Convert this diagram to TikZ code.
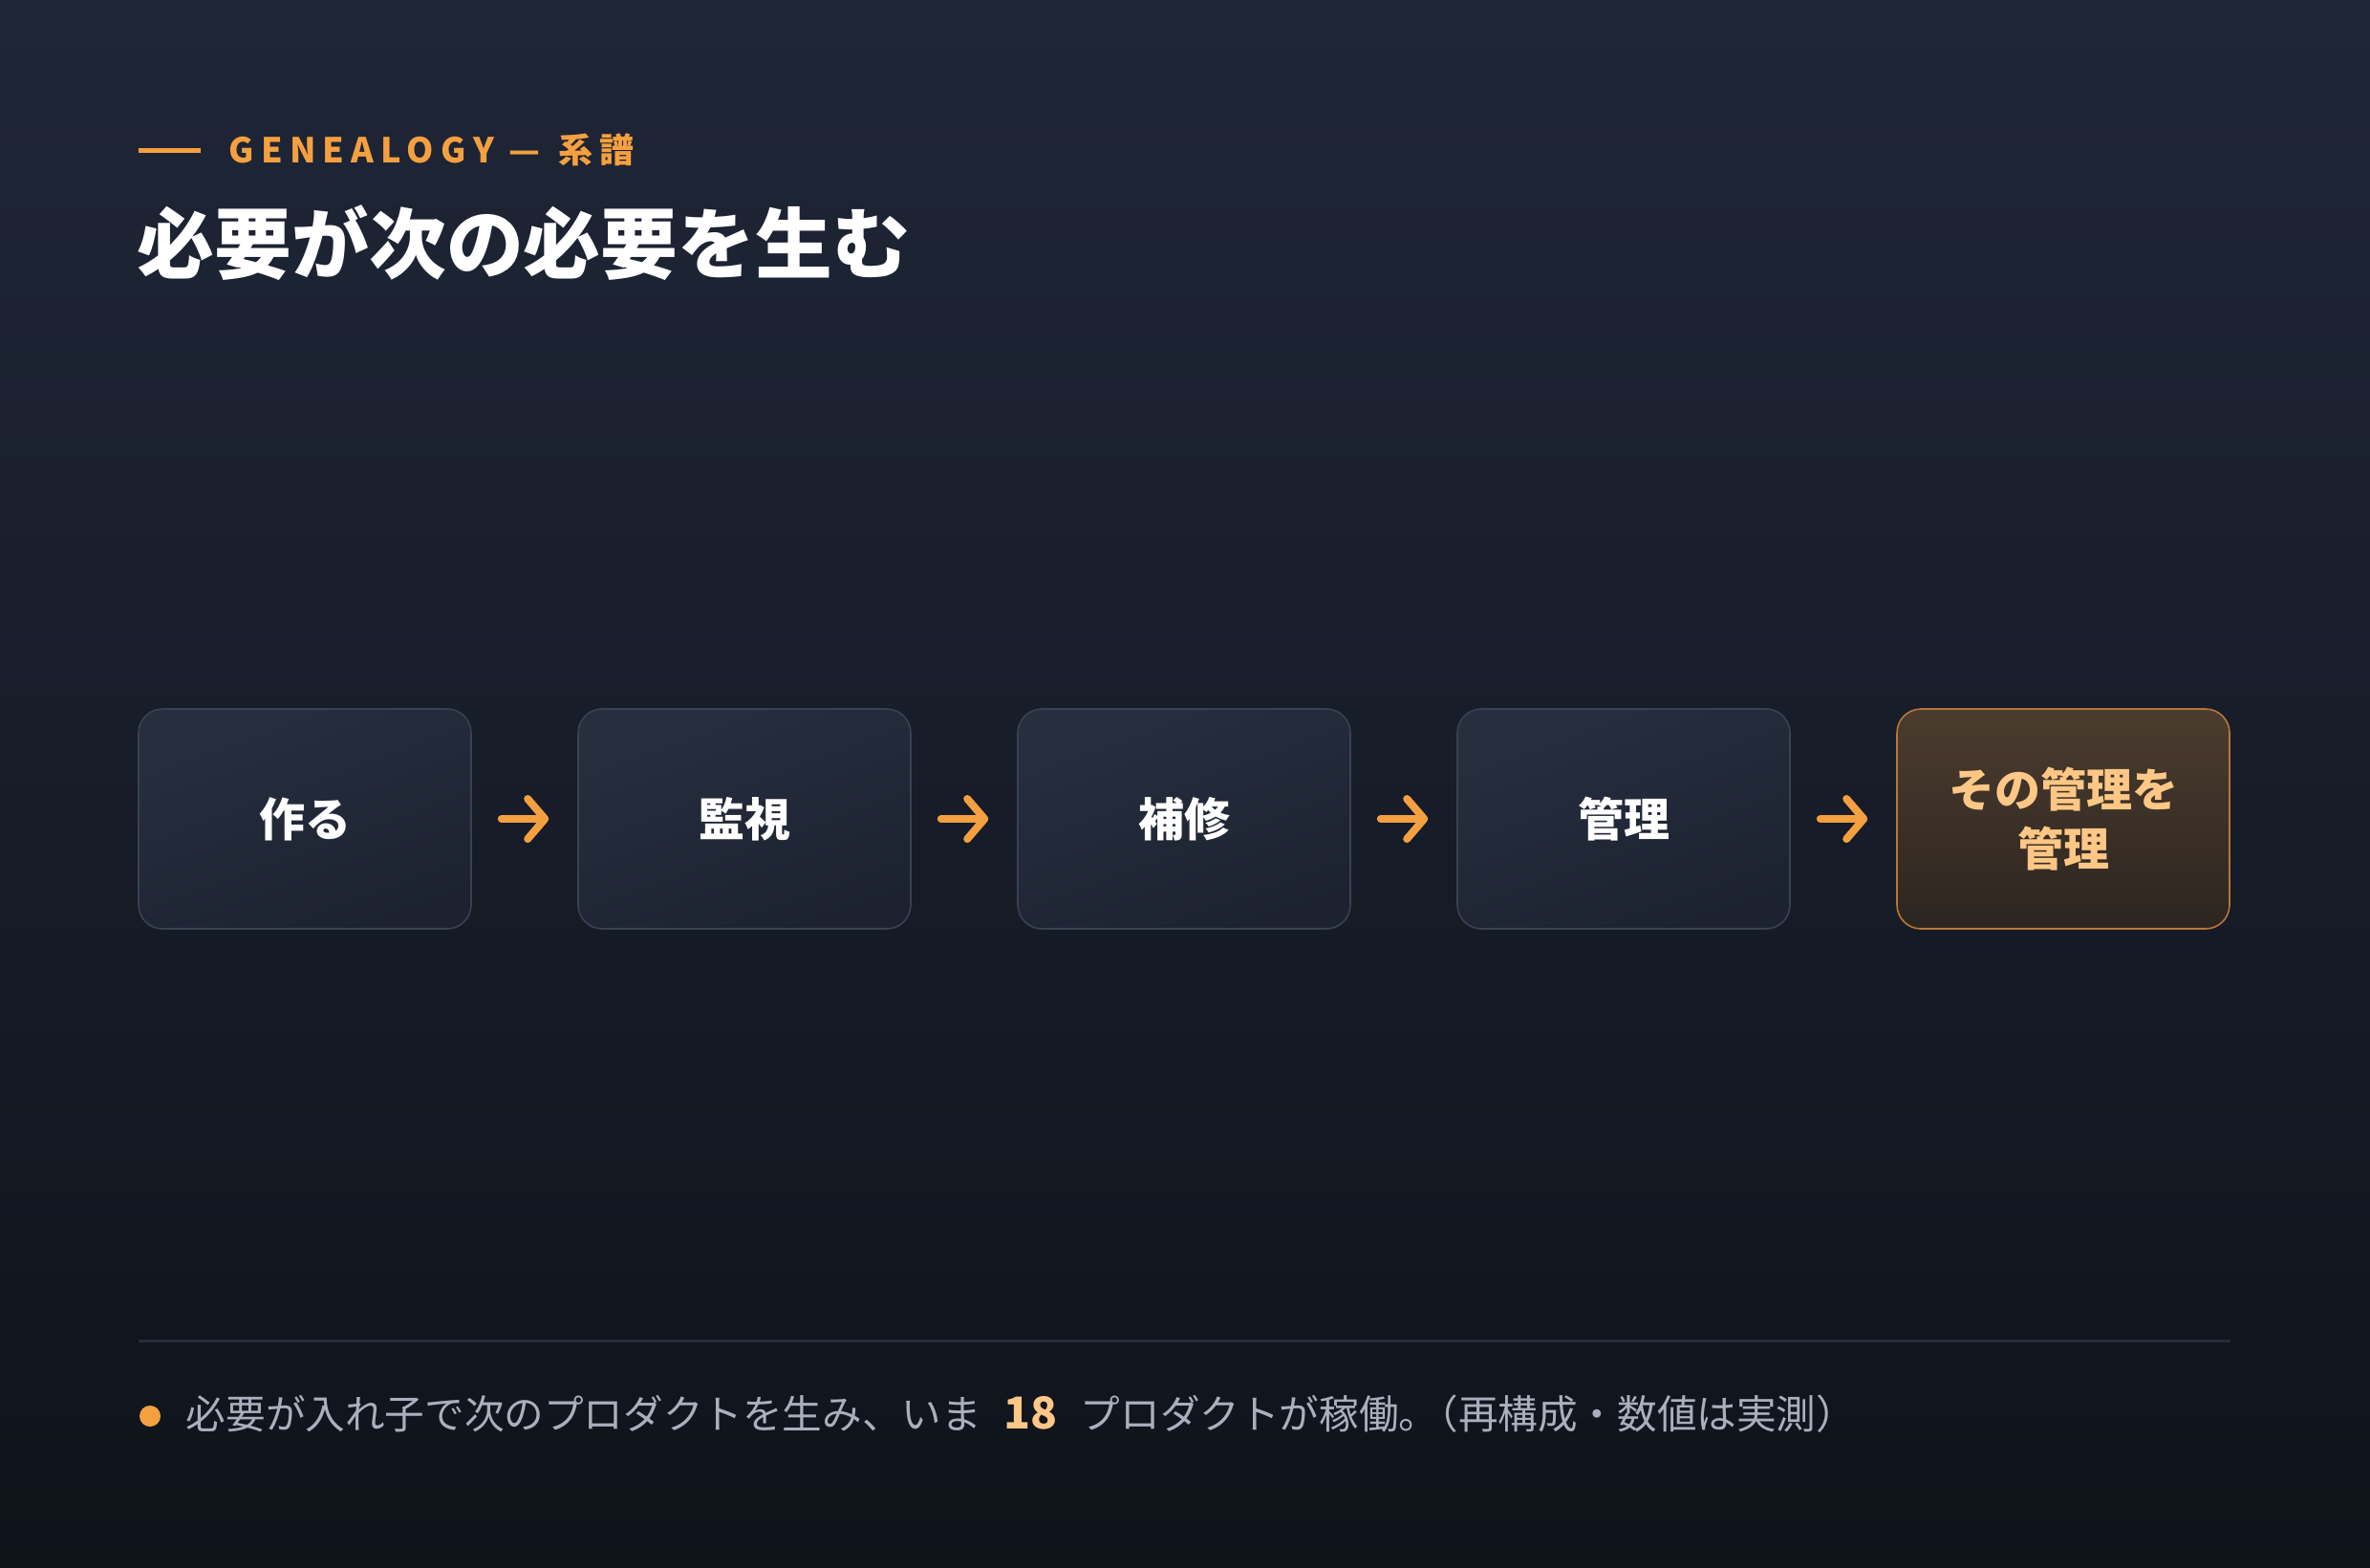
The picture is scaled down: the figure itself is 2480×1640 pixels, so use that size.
\documentclass[tikz,border=0pt]{standalone}
\usepackage{fontspec}
\setmainfont{Noto Sans CJK JP}
\newfontfamily\headfont{Noto Sans CJK JP}[LetterSpace=20]
\usetikzlibrary{arrows.meta,positioning}

\definecolor{bgtop}{HTML}{1F2637}
\definecolor{bgbot}{HTML}{0F131A}
\definecolor{accent}{HTML}{F5A040}
\definecolor{boxtop}{HTML}{272E3E}
\definecolor{boxbot}{HTML}{1C2230}
\definecolor{boxline}{HTML}{3A4150}
\definecolor{hottop}{HTML}{4B3C2E}
\definecolor{hotbot}{HTML}{2C2520}
\definecolor{hotline}{HTML}{B8773A}
\definecolor{hottext}{HTML}{FFC785}
\definecolor{notetext}{HTML}{A9B0BD}
\definecolor{rulecol}{HTML}{262C38}

\begin{document}
\begin{tikzpicture}[x=0.25pt,y=-0.25pt,>={Straight Barb[length=4.5pt,width=10.5pt,round]},node distance=115pt,
    stage/.style={rounded corners=6.25pt, draw=boxline, line width=0.4pt, top color=boxtop, bottom color=boxbot,
      shading angle=20, minimum width=87pt, minimum height=57.5pt, inner sep=0pt,
      text=white, font=\fontsize{12}{15.5}\selectfont\bfseries, align=center},
    final/.style={stage, draw=hotline, top color=hottop, bottom color=hotbot, text=hottext},
    flow/.style={->, draw=accent, line width=2pt, line cap=round, shorten <=7.75pt, shorten >=7.5pt}]
    % background
    \shade[top color=bgtop, bottom color=bgbot] (0,0) rectangle (2480,1640);
    \useasboundingbox (0,0) rectangle (2480,1640);

    % heading
    \coordinate (tag start) at (145,157);
    \coordinate (tag end) at (210,157);
    \draw[accent, line width=1.25pt] (tag start) -- (tag end);
    \node[anchor=west, inner sep=0pt, text=accent, font=\headfont\fontsize{9}{9}\selectfont\bfseries] (tag) at (239,157) {GENEALOGY — \hspace{1pt}系譜};
    \node[anchor=west, inner sep=0pt, text=white, font=\fontsize{20.2}{20.2}\selectfont\bfseries] (title) at (143,254) {必要が次の必要を生む};

    % chain
    \node[stage] (make) at (319,857) {作る};
    \node[stage] (watch) [right of=make] {監視};
    \node[stage] (repair) [right of=watch] {補修};
    \node[stage] (manage) [right of=repair] {管理};
    \node[final] (meta) [right of=manage] {その管理を\\管理};

    \path[flow] (make) edge (watch);
    \path[flow] (watch) edge (repair);
    \path[flow] (repair) edge (manage);
    \path[flow] (manage) edge (meta);

    % footer
    \coordinate (rule start) at (145,1403);
    \coordinate (rule end) at (2334,1403);
    \draw[rulecol, line width=0.75pt] (rule start) -- (rule end);
    \node[circle, fill=accent, minimum size=5.5pt, inner sep=0pt] (bullet) at (157,1482) {};
    \node[anchor=west, inner sep=0pt, text=notetext, font=\fontsize{10.4}{10.4}\selectfont] (note) at (194,1480)
      {必要が入れ子で次のプロダクトを生み、いま\hspace{6pt}{\fontsize{11.5}{11.5}\selectfont\bfseries\color{hottext}18}\hspace{6pt}プロダクトが稼働。\hspace{-0.5em}（再構成・数値は実測）};
\end{tikzpicture}
\end{document}
